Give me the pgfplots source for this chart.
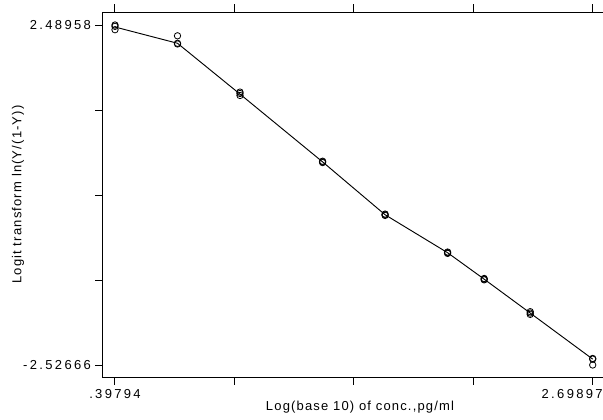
\documentclass[border=0pt]{standalone}
\usepackage{pgfplots}
\pgfplotsset{compat=1.18}
\usepackage{fontspec}
\setmainfont{Liberation Sans}[LetterSpace=9]
\newfontfamily\tickfont{Liberation Sans}[LetterSpace=18]
\begin{document}
\fontsize{9.75pt}{11.7pt}\selectfont
\begin{tikzpicture}
\path[use as bounding box] (0,0) rectangle (452.25pt,314.25pt);
\begin{axis}[
  at={(77.25pt,31.5pt)}, anchor=south west,
  scale only axis, width=376.5pt, height=273.75pt,
  xmin=0.34014, xmax=2.7582, ymin=-2.7037, ymax=2.6814,
  xtick={0.39794,0.973198,1.548455,2.123713,2.69897},
  xticklabels={.39794,,,,\makebox[0pt][r]{2.69897\hspace{-7.5pt}}},
  ytick={-2.52666,-1.272595,-0.01853,1.235525,2.48958},
  yticklabels={-2.52666,,,,2.48958},
  xtick pos=both, ytick pos=left,
  tick align=outside, major tick length=5.625pt,
  tick style={black, line width=0.75pt},
  axis line style={line width=0.75pt},
  ticklabel style={font=\tickfont\fontsize{9.75pt}{11.7pt}\selectfont},
  label style={font=\fontsize{9.75pt}{11.7pt}\selectfont},
  xlabel={Log(base 10) of conc.,pg/ml},
  ylabel={Logit transform ln(Y/(1-Y))},
  xlabel style={at={(rel axis cs:0.5,0)}, anchor=center, yshift=-22.5pt, xshift=4.5pt},
  ylabel style={at={(rel axis cs:0,0.5)}, anchor=center, yshift=63.75pt},
  clip=false,
]
\addplot[only marks, mark=o, mark size=2.4pt, mark options={line width=0.6pt, black}] coordinates {
 (0.39794,2.48958) (0.39794,2.47) (0.39794,2.42)
 (0.69897,2.33) (0.69897,2.22) (0.69897,2.21)
 (1.0,1.50) (1.0,1.48) (1.0,1.45)
 (1.39794,0.48) (1.39794,0.47) (1.39794,0.46)
 (1.69897,-0.30) (1.69897,-0.31) (1.69897,-0.32)
 (2.0,-0.86) (2.0,-0.87) (2.0,-0.88)
 (2.17609,-1.25) (2.17609,-1.26) (2.17609,-1.27)
 (2.39794,-1.74) (2.39794,-1.76) (2.39794,-1.78)
 (2.69897,-2.43) (2.69897,-2.44) (2.69897,-2.52666)
};
\addplot[black, line width=0.7pt, no markers] coordinates {
 (0.39794,2.46) (0.69897,2.22) (1.0,1.47) (1.39794,0.47) (1.69897,-0.31)
 (2.0,-0.87) (2.17609,-1.26) (2.39794,-1.76) (2.69897,-2.44)
};
\end{axis}
\end{tikzpicture}
\end{document}
